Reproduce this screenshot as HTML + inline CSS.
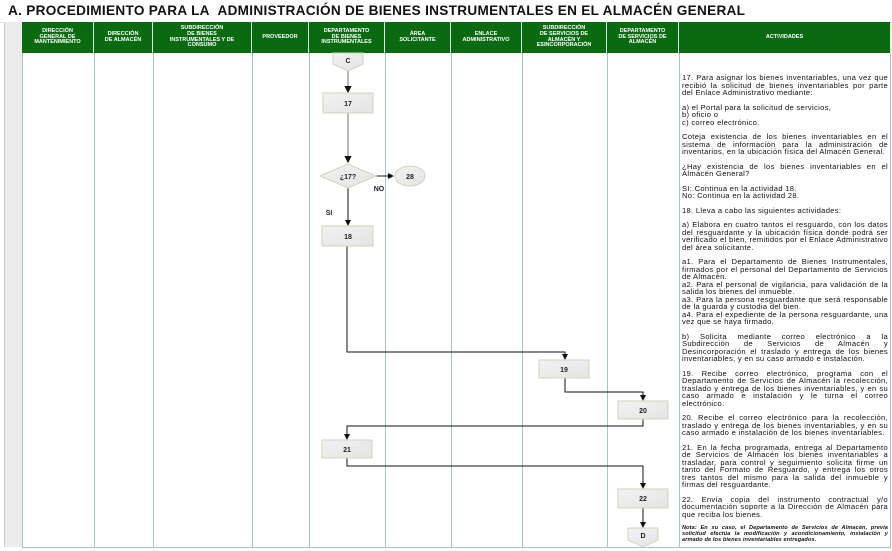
<!DOCTYPE html>
<html><head><meta charset="utf-8"><style>
body{margin:0;width:892px;height:549px;background:#fff;position:relative;overflow:hidden;font-family:"Liberation Sans",sans-serif}
.t{position:absolute;left:8px;top:3px;font-size:13.6px;font-weight:bold;color:#111;letter-spacing:0.3px}
.hd{position:absolute;top:22px;height:31px;background:#0a6a12;color:#fff;font-size:5.5px;font-weight:bold;text-align:center;display:flex;align-items:center;justify-content:center;line-height:5.6px;border-right:1px solid #cfd;box-sizing:border-box}
.txt{position:absolute;left:682px;top:74px;width:206px;font-size:7.6px;line-height:7.5px;letter-spacing:0.3px;color:#111;text-align:justify}
.txt p{margin:0 0 7px 0}
</style></head><body>
<div style="position:absolute;left:0;top:0;width:892px;height:22px;border-bottom:1px solid #ddd"></div>
<div class="t">A. PROCEDIMIENTO PARA LA&nbsp; ADMINISTRACIÓN DE BIENES INSTRUMENTALES EN EL ALMACÉN GENERAL</div>
<div style="position:absolute;left:4px;top:22px;width:18px;height:525px;background:#ececec;border-left:1px solid #ccc"></div>
<div class="hd" style="left:22px;width:72px">DIRECCIÓN<br>GENERAL DE<br>MANTENIMIENTO</div>
<div class="hd" style="left:94px;width:59px">DIRECCIÓN<br>DE ALMACÉN</div>
<div class="hd" style="left:153px;width:99px">SUBDIRECCIÓN<br>DE BIENES<br>INSTRUMENTALES Y DE<br>CONSUMO</div>
<div class="hd" style="left:252px;width:57px">PROVEEDOR</div>
<div class="hd" style="left:309px;width:76px">DEPARTAMENTO<br>DE BIENES<br>INSTRUMENTALES</div>
<div class="hd" style="left:385px;width:66px">ÁREA<br>SOLICITANTE</div>
<div class="hd" style="left:451px;width:71px">ENLACE<br>ADMINISTRATIVO</div>
<div class="hd" style="left:522px;width:85px">SUBDIRECCIÓN<br>DE SERVICIOS DE<br>ALMACÉN Y<br>ESINCORPORACIÓN</div>
<div class="hd" style="left:607px;width:72px">DEPARTAMENTO<br>DE SERVICIOS DE<br>ALMACÉN</div>
<div class="hd" style="left:679px;width:212px">ACTIVIDADES</div>
<svg style="position:absolute;left:0;top:0" width="892" height="549">
<defs><marker id="a" markerWidth="6" markerHeight="6" refX="5" refY="3" orient="auto"><path d="M0,0L6,3L0,6z" fill="#111"/></marker>
<linearGradient id="g" x1="0" y1="0" x2="1" y2="1"><stop offset="0" stop-color="#f2f2f2"/><stop offset="1" stop-color="#e4e4e4"/></linearGradient></defs>
<g stroke="#a9c4bb" stroke-width="1">
<line x1="22.5" y1="53" x2="22.5" y2="547"/><line x1="94.5" y1="53" x2="94.5" y2="547"/><line x1="153.5" y1="53" x2="153.5" y2="547"/><line x1="252.5" y1="53" x2="252.5" y2="547"/><line x1="309.5" y1="53" x2="309.5" y2="547"/><line x1="385.5" y1="53" x2="385.5" y2="547"/><line x1="451.5" y1="53" x2="451.5" y2="547"/><line x1="522.5" y1="53" x2="522.5" y2="547"/><line x1="607.5" y1="53" x2="607.5" y2="547"/><line x1="679.5" y1="53" x2="679.5" y2="547"/><line x1="890.5" y1="53" x2="890.5" y2="547"/><line x1="22" y1="547.5" x2="891" y2="547.5"/>
</g>
<g stroke="#888" stroke-width="1.2" fill="none">
<line x1="348" y1="70" x2="348" y2="92" marker-end="url(#a)"/>
<line x1="348" y1="113" x2="348" y2="162" marker-end="url(#a)"/>
</g>
<g stroke="#111" stroke-width="1" fill="none">
<line x1="376" y1="176" x2="393" y2="176" marker-end="url(#a)"/>
<line x1="348" y1="188" x2="348" y2="225" marker-end="url(#a)"/>
<polyline points="347,246 347,352 565,352 565,359" marker-end="url(#a)"/>
<polyline points="565,378 565,392 643,392 643,400" marker-end="url(#a)"/>
<polyline points="643,419 643,426 347,426 347,439" marker-end="url(#a)"/>
<polyline points="347,458 347,466 643,466 643,488" marker-end="url(#a)"/>
<line x1="643" y1="508" x2="643" y2="527" marker-end="url(#a)"/>
</g>
<g fill="url(#g)" stroke="#d6d0bd" stroke-width="1">
<path d="M333,53H363V64L348,71L333,64Z"/>
<rect x="323" y="93" width="50" height="20"/>
<path d="M320,176L348,164L376,176L348,188Z"/>
<ellipse cx="410" cy="176" rx="15" ry="10"/>
<rect x="322" y="226" width="51" height="20"/>
<rect x="539" y="360" width="50" height="18"/>
<rect x="618" y="401" width="50" height="18"/>
<rect x="322" y="440" width="50" height="18"/>
<rect x="618" y="489" width="50" height="19"/>
<path d="M628,528H658V540L643,547L628,540Z"/>
</g>
<g font-size="7" font-weight="bold" text-anchor="middle" fill="#222">
<text x="348" y="63">C</text><text x="348" y="106">17</text><text x="348" y="179">¿17?</text><text x="410" y="179">28</text><text x="348" y="239">18</text><text x="564" y="372">19</text><text x="643" y="413">20</text><text x="347" y="452">21</text><text x="643" y="501">22</text><text x="643" y="538">D</text>
<text x="379" y="191">NO</text><text x="329" y="215">SI</text>
</g>
</svg>
<div class="txt">
<p>17. Para asignar los bienes inventariables, una vez que recibió la solicitud de bienes inventariables por parte del Enlace Administrativo mediante:</p>
<p>a) el Portal para la solicitud de servicios,<br>b) oficio o<br>c) correo electrónico.</p>
<p>Coteja existencia de los bienes inventariables en el sistema de información para la administración de inventarios, en la ubicación física del Almacén General.</p>
<p>¿Hay existencia de los bienes inventariables en el Almacén General?</p>
<p>SI: Continua en la actividad 18.<br>No: Continua en la actividad 28.</p>
<p>18. Lleva a cabo las siguientes actividades:</p>
<p>a) Elabora en cuatro tantos el resguardo, con los datos del resguardante y la ubicación física donde podrá ser verificado el bien, remitidos por el Enlace Administrativo del área solicitante.</p>
<p>a1. Para el Departamento de Bienes Instrumentales, firmados por el personal del Departamento de Servicios de Almacén.<br>a2. Para el personal de vigilancia, para validación de la salida los bienes del inmueble.<br>a3. Para la persona resguardante que será responsable de la guarda y custodia del bien.<br>a4. Para el expediente de la persona resguardante, una vez que se haya firmado.</p>
<p>b) Solicita mediante correo electrónico a la Subdirección de Servicios de Almacén y Desincorporación el traslado y entrega de los bienes inventariables, y en su caso armado e instalación.</p>
<p>19. Recibe correo electrónico, programa con el Departamento de Servicios de Almacén la recolección, traslado y entrega de los bienes inventariables, y en su caso armado e instalación y le turna el correo electrónico.</p>
<p>20. Recibe el correo electrónico para la recolección, traslado y entrega de los bienes inventariables, y en su caso armado e instalación de los bienes inventariables.</p>
<p>21. En la fecha programada, entrega al Departamento de Servicios de Almacén los bienes inventariables a trasladar, para control y seguimiento solicita firme un tanto del Formato de Resguardo, y entrega los otros tres tantos del mismo para la salida del inmueble y firmas del resguardante.</p>
<p>22. Envía copia del instrumento contractual y/o documentación soporte a la Dirección de Almacén para que reciba los bienes.</p>
<p style="font-size:5.6px;line-height:6.2px;font-style:italic;font-weight:bold;letter-spacing:0.1px">Nota: En su caso, el Departamento de Servicios de Almacén, previa solicitud efectúa la modificación y acondicionamiento, instalación y armado de los bienes inventariables entregados.</p>
</div>
</body></html>
